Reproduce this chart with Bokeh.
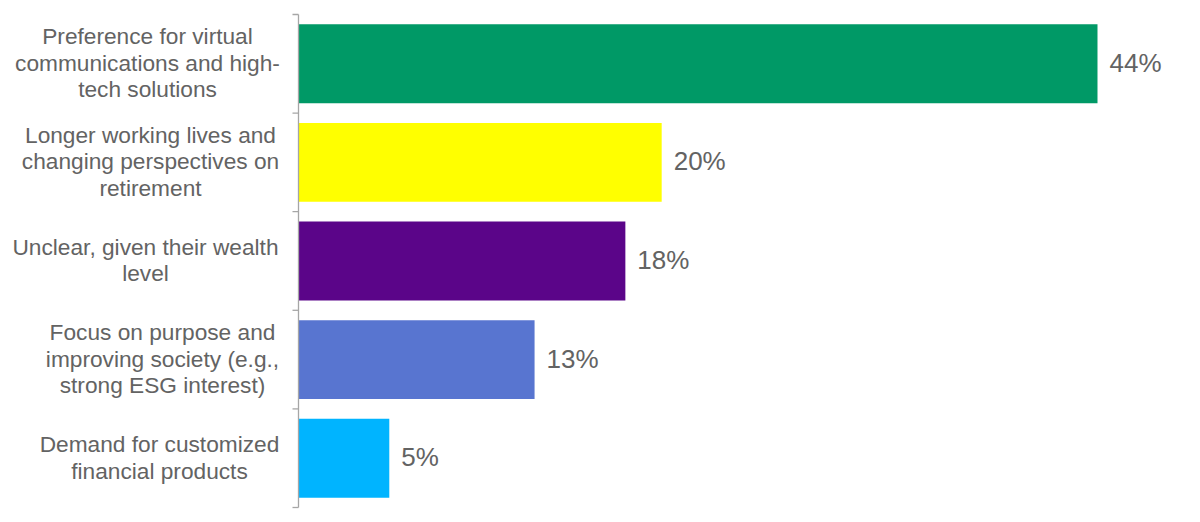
from bokeh.plotting import figure
from bokeh.models import Range1d, ColumnDataSource
from bokeh.core.properties import value
from bokeh.embed import file_html
from bokeh.resources import INLINE

# ---- data ----
categories = [
    "Preference for virtual\ncommunications and high-\ntech solutions",
    "Longer working lives and\nchanging perspectives on\nretirement",
    "Unclear, given their wealth\nlevel",
    "Focus on purpose and\nimproving society (e.g.,\nstrong ESG interest)",
    "Demand for customized\nfinancial products",
]
values = [44, 20, 18, 13, 5]
value_labels = ["44%", "20%", "18%", "13%", "5%"]
colors = ["#009966", "#FFFF00", "#5B0589", "#5875D0", "#00B4FF"]

# ---- layout constants (styling, not data) ----
PX_PER_UNIT = 18.159          # horizontal pixels per percent
AXIS_X = 298                  # axis position in canvas px
TOP_PX, BOT_PX = 14, 507      # first / last boundary tick in canvas px
label_center_px = [-151, -148, -153, -136, -139]  # label centre relative to axis (px)
TEXT_COLOR = "#636363"

n = len(categories)
ypos = [i + 0.5 for i in range(n)]
label_x = [c / PX_PER_UNIT for c in label_center_px]

W, H = 1192, 514
x_start = -AXIS_X / PX_PER_UNIT
x_end = x_start + W / PX_PER_UNIT
unit_px = (BOT_PX - TOP_PX) / n
y_top = -TOP_PX / unit_px
y_bot = n + (H - BOT_PX) / unit_px

p = figure(width=W, height=H, output_backend="svg", toolbar_location=None,
           x_range=Range1d(x_start, x_end), y_range=Range1d(y_bot, y_top),
           min_border=0, min_border_left=0, min_border_right=0,
           min_border_top=0, min_border_bottom=0)
p.axis.visible = False
p.grid.visible = False
p.outline_line_color = None
p.background_fill_color = "white"
p.border_fill_color = "white"

src = ColumnDataSource(dict(y=ypos, v=values, lab=value_labels, c=colors,
                            cat=categories, lx=label_x))

p.hbar(y="y", left=0, right="v", height=0.8, color="c", line_color=None, source=src)

p.text(x="v", y="y", text="lab", source=src, x_offset=12, y_offset=-1,
       text_font=value("Liberation Sans"), text_font_size="26px",
       text_color=TEXT_COLOR, text_align="left", text_baseline="middle")

p.text(x="lx", y="y", text="cat", source=src, y_offset=-1,
       text_font=value("Liberation Sans"), text_font_size="22.7px",
       text_color=TEXT_COLOR, text_align="center", text_baseline="middle",
       text_line_height=1.025)

# axis line and boundary ticks
tick_len = 6 / PX_PER_UNIT
bounds = list(range(n + 1))
p.segment(x0=[0], y0=[0], x1=[0], y1=[n], line_color="#A6A6A6", line_width=1.3)
p.segment(x0=[-tick_len] * len(bounds), y0=bounds, x1=[0] * len(bounds), y1=bounds,
          line_color="#A6A6A6", line_width=1.3)

open("out.html", "w").write(file_html(p, INLINE))
